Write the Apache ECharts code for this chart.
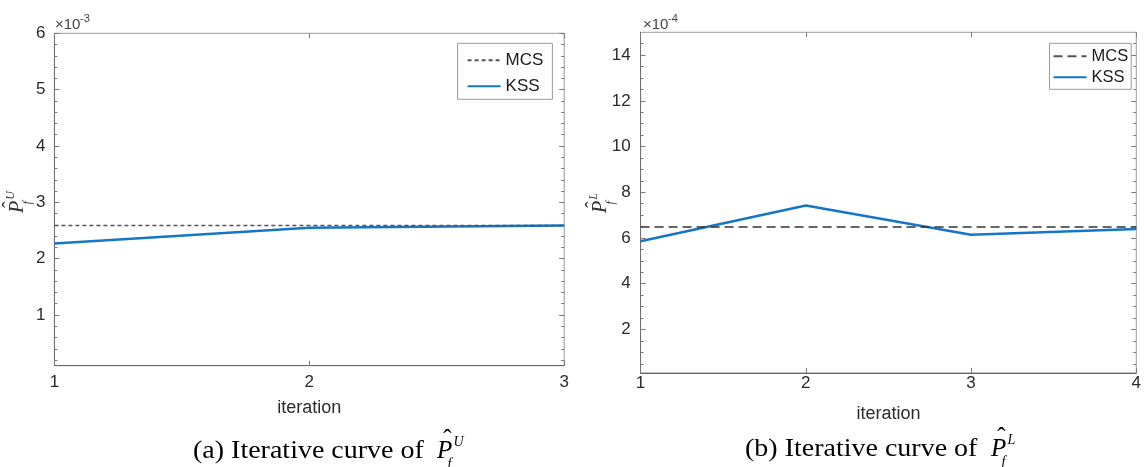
<!DOCTYPE html>
<html>
<head>
<meta charset="utf-8">
<title>Iterative curves</title>
<script src="https://cdn.jsdelivr.net/npm/echarts@6.0.0/dist/echarts.min.js"></script>
<style>
    html, body { margin: 0; padding: 0; background: #fff; }
    #chart { width: 1144px; height: 467px; }
</style>
</head>
<body>
<div id="chart"></div>
<script>
// values are in units of 1e-3 (left) and 1e-4 (right), as in the axis exponents
const leftIterations = [1, 2, 3];
const leftKSS = [2.27, 2.55, 2.59];
const leftMCS = 2.59;
const leftYTicks = [1, 2, 3, 4, 5, 6];

const rightIterations = [1, 2, 3, 4];
const rightKSS = [5.86, 7.42, 6.14, 6.40];
const rightMCS = 6.48;
const rightYTicks = [2, 4, 6, 8, 10, 12, 14];

const SANS = 'Liberation Sans, Arial, sans-serif';
const SERIF = 'Liberation Serif, Times New Roman, serif';
const AXIS = '#7a7a7a';
const TEXT = '#2b2b2b';
const BLUE = '#1576c8';

// minor ticks between the majors (matlab style)
function minorTicks(step, max, majors) {
    const out = [];
    for (let v = step; v < max - 1e-9; v += step) {
        const r = Math.round(v * 100) / 100;
        if (!majors.includes(r)) out.push(r);
    }
    return out;
}
const leftMinor = minorTicks(0.2, 6, leftYTicks);
const rightMinor = minorTicks(0.5, 15, rightYTicks);

const chart = echarts.init(document.getElementById('chart'), null, { renderer: 'canvas' });

function xAxes(grid, max, labelMargin, nameGap) {
    return [{
        gridIndex: grid, type: 'value', position: 'bottom',
        min: 1, max: max, interval: 1,
        axisLine: { show: true, lineStyle: { color: '#666', width: 1 } },
        axisTick: { show: true, inside: true, length: 5, lineStyle: { color: AXIS } },
        axisLabel: { fontSize: 17, color: TEXT, fontFamily: SANS, margin: labelMargin },
        splitLine: { show: false },
        name: 'iteration', nameLocation: 'middle', nameGap: nameGap,
        nameTextStyle: { fontSize: 18, color: TEXT, fontFamily: SANS }
    }, {
        gridIndex: grid, type: 'value', position: 'top',
        min: 1, max: max, interval: 1,
        axisLine: { show: false },
        axisTick: { show: true, inside: true, length: 5, lineStyle: { color: AXIS } },
        axisLabel: { show: false },
        splitLine: { show: false }
    }];
}

function yAxes(grid, min, max, majors, minors, labelMargin) {
    const base = { gridIndex: grid, type: 'value', min: min, max: max, splitLine: { show: false } };
    return [
        Object.assign({}, base, {
            position: 'left',
            axisLine: { show: true, lineStyle: { color: '#707070', width: 1 } },
            axisTick: { show: true, inside: true, length: 5, customValues: majors, lineStyle: { color: AXIS } },
            axisLabel: { customValues: majors, fontSize: 17, color: TEXT, fontFamily: SANS, margin: labelMargin }
        }),
        Object.assign({}, base, {
            position: 'right',
            axisLine: { show: false },
            axisTick: { show: true, inside: true, length: 5, customValues: majors, lineStyle: { color: AXIS } },
            axisLabel: { show: false }
        }),
        Object.assign({}, base, {
            position: 'left',
            axisLine: { show: false },
            axisTick: { show: true, inside: true, length: 3, customValues: minors, lineStyle: { color: AXIS } },
            axisLabel: { show: false }
        }),
        Object.assign({}, base, {
            position: 'right',
            axisLine: { show: false },
            axisTick: { show: true, inside: true, length: 3, customValues: minors, lineStyle: { color: AXIS } },
            axisLabel: { show: false }
        })
    ];
}

// P-hat with sub/superscript, used for captions and rotated axis titles
function pHat(opts) {
    const s = opts.size;
    const hatY = opts.hatY != null ? opts.hatY : -0.46;
    return {
        type: 'group',
        x: opts.x, y: opts.y,
        rotation: opts.rotation || 0,
        silent: true,
        children: [
            { type: 'text', style: { text: 'P', x: 0, y: 0, font: 'italic ' + s + 'px ' + SERIF, fill: opts.color, align: 'left', verticalAlign: 'middle' } },
            { type: 'text', style: { text: '\u02C6', x: s * 0.42, y: s * hatY, font: s + 'px ' + SERIF, fill: opts.color, align: 'center', verticalAlign: 'middle' } },
            { type: 'text', style: { text: opts.sup, x: s * 0.66, y: -s * 0.36, font: 'italic ' + Math.round(s * 0.58) + 'px ' + SERIF, fill: opts.color, align: 'left', verticalAlign: 'middle' } },
            { type: 'text', style: { text: 'f', x: s * 0.42, y: s * 0.5, font: 'italic ' + Math.round(s * 0.58) + 'px ' + SERIF, fill: opts.color, align: 'left', verticalAlign: 'middle' } }
        ]
    };
}

function exponent(x, y, pow) {
    return {
        type: 'group', x: x, y: y, silent: true,
        children: [
            { type: 'text', style: { text: '\u00D710', x: 0, y: 0, font: '15px ' + SANS, fill: '#444', align: 'left', verticalAlign: 'middle' } },
            { type: 'text', style: { text: pow, x: 25, y: -6, font: '11px ' + SANS, fill: '#444', align: 'left', verticalAlign: 'middle' } }
        ]
    };
}

function caption(x, y, label) {
    return {
        type: 'text', x: x, y: y, scaleX: 1.12, silent: true,
        style: { text: label, font: '25px ' + SERIF, fill: '#000', align: 'left', verticalAlign: 'middle' }
    };
}

function legend(left, top, padding, itemGap, fontSize, lineHeight, dash) {
    return {
        orient: 'vertical', left: left, top: top,
        padding: padding, itemGap: itemGap, itemWidth: 33, itemHeight: 14,
        borderColor: '#999', borderWidth: 1, backgroundColor: '#fff',
        selectedMode: false,
        // line series legend draws a marker; hide it so only the line shows
        itemStyle: { opacity: 0, color: 'transparent', borderColor: 'transparent', borderWidth: 0 },
        textStyle: { fontSize: fontSize, color: '#1a1a1a', fontFamily: SANS, lineHeight: lineHeight },
        data: [
            { name: 'MCS', lineStyle: { type: dash } },
            { name: 'KSS' }
        ]
    };
}

const option = {
    backgroundColor: '#fff',
    animation: false,
    grid: [
        { left: 54.4, top: 33.3, width: 509.8, height: 332.4, show: true, borderColor: '#9a9a9a', borderWidth: 1, backgroundColor: '#fff' },
        { left: 640.6, top: 32.3, width: 501.4, height: 340.6, show: true, borderColor: '#9a9a9a', borderWidth: 1, backgroundColor: '#fff' }
    ],
    xAxis: [].concat(xAxes(0, 3, 8, 33), xAxes(1, 4, 2, 32)),
    yAxis: [].concat(yAxes(0, 0.1, 6, leftYTicks, leftMinor, 9), yAxes(1, 0.1, 15, rightYTicks, rightMinor, 10)),
    legend: [
        legend(457.6, 43.3, [7, 9, 3, 9], 6, 17, 20, [4, 3]),
        legend(1049.5, 43.3, [4, 3, 3, 3], 3, 16.5, 18, [9, 5])
    ],
    series: [
        {
            name: 'KSS', type: 'line', xAxisIndex: 0, yAxisIndex: 0, symbol: 'none',
            data: leftIterations.map((it, i) => [it, leftKSS[i]]),
            lineStyle: { color: BLUE, width: 2.5 }, itemStyle: { color: BLUE }
        },
        {
            name: 'MCS', type: 'line', xAxisIndex: 0, yAxisIndex: 0, symbol: 'none',
            data: [[leftIterations[0], leftMCS], [leftIterations[leftIterations.length - 1], leftMCS]],
            lineStyle: { color: '#555', width: 1.5, type: [4, 3] }, itemStyle: { color: '#555' }
        },
        {
            name: 'KSS', type: 'line', xAxisIndex: 2, yAxisIndex: 4, symbol: 'none',
            data: rightIterations.map((it, i) => [it, rightKSS[i]]),
            lineStyle: { color: BLUE, width: 2.5 }, itemStyle: { color: BLUE }
        },
        {
            name: 'MCS', type: 'line', xAxisIndex: 2, yAxisIndex: 4, symbol: 'none',
            data: [[rightIterations[0], rightMCS], [rightIterations[rightIterations.length - 1], rightMCS]],
            lineStyle: { color: '#333', width: 1.5, type: [9, 5] }, itemStyle: { color: '#333' }
        }
    ],
    graphic: [
        exponent(55, 25, '-3'),
        exponent(643, 25, '-4'),
        pHat({ x: 18, y: 213, rotation: Math.PI / 2, size: 20, sup: 'U', color: '#333', hatY: -0.3 }),
        pHat({ x: 601, y: 213, rotation: Math.PI / 2, size: 20, sup: 'L', color: '#333', hatY: -0.3 }),
        caption(193, 451.5, '(a) Iterative curve of'),
        pHat({ x: 437, y: 451.5, size: 25, sup: 'U', color: '#000' }),
        caption(745, 449.5, '(b) Iterative curve of'),
        pHat({ x: 991, y: 449.5, size: 25, sup: 'L', color: '#000' })
    ]
};

chart.setOption(option);
window.addEventListener('resize', () => chart.resize());
</script>
</body>
</html>
